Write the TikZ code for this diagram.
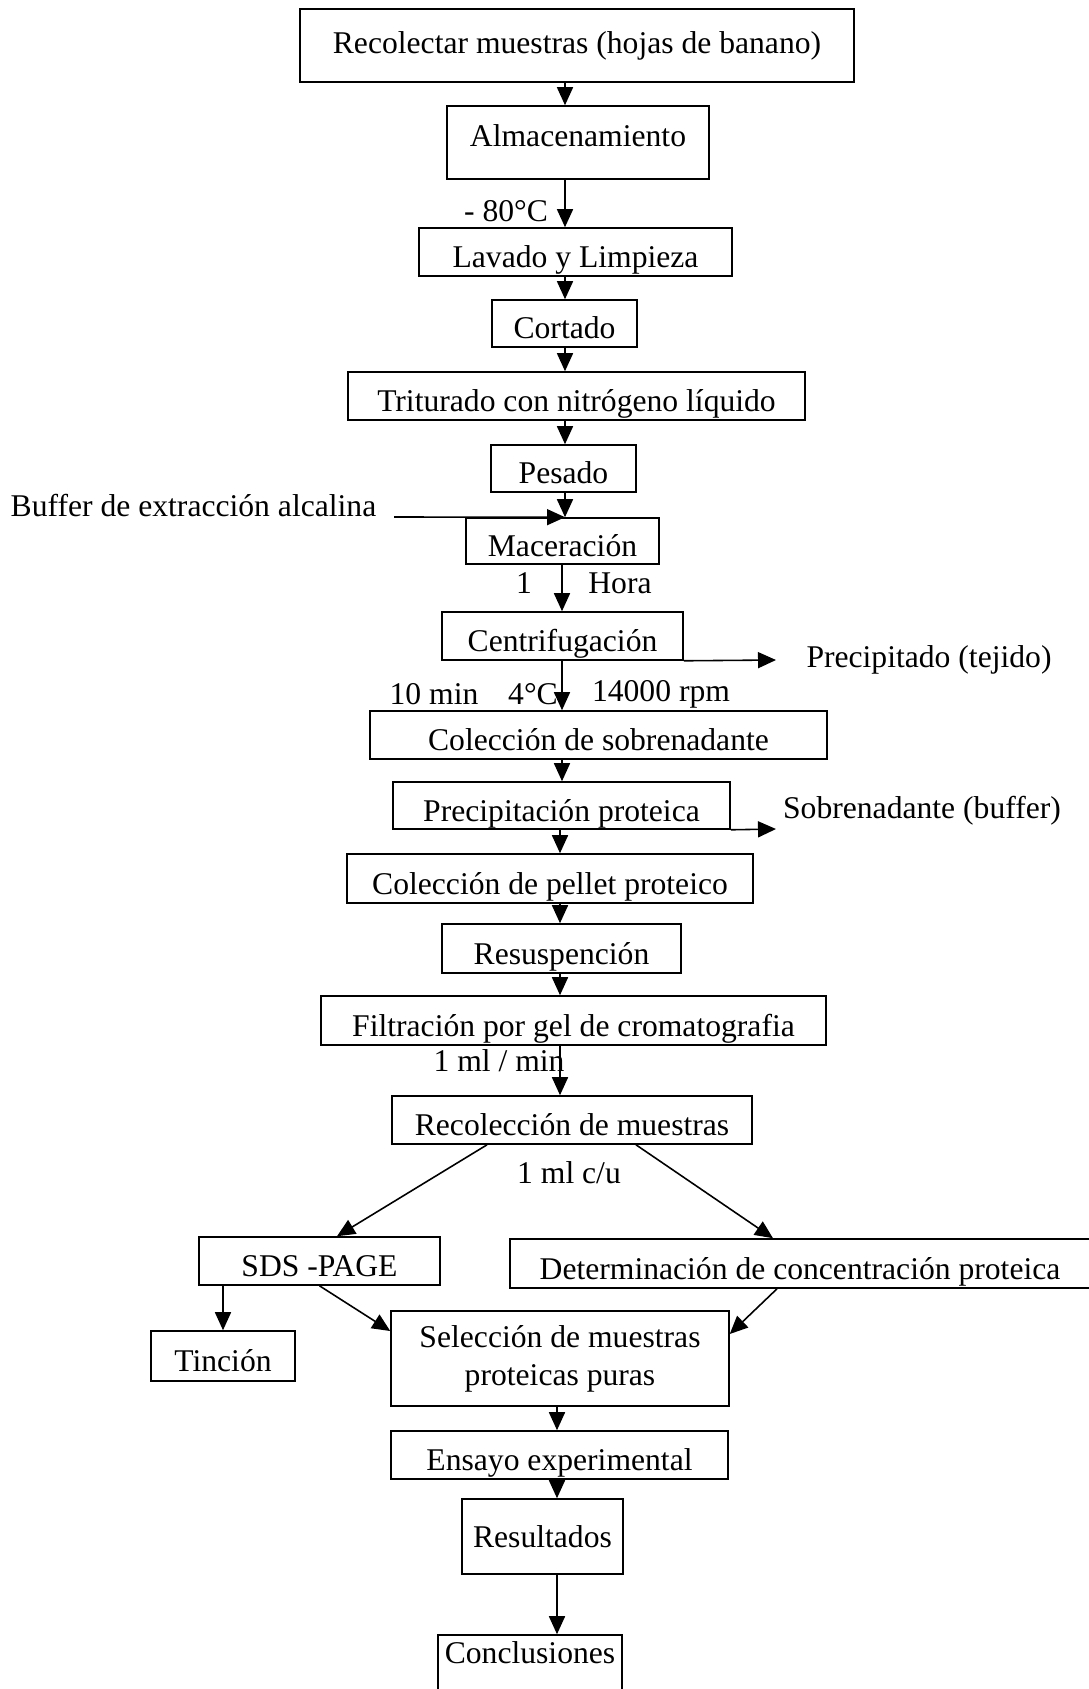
\documentclass[tikz,border=0pt]{standalone}
\usepackage{fontspec}
\setmainfont{Liberation Serif}
\usetikzlibrary{arrows.meta}
\tikzset{
  paso/.style={shape=rectangle, draw=black, line width=0.9pt, inner sep=0pt, align=center, font=\fontsize{18}{21.5}\selectfont},
  bajo/.style={text height=0.72cm, text depth=0.1cm},
  etiq/.style={inner sep=0pt, font=\fontsize{18}{21.5}\selectfont},
  flecha/.style={->, line width=0.9pt, draw=black},
}
\begin{document}
\begin{tikzpicture}[x=0.02cm, y=-0.02cm, >={Triangle[length=0.36cm, width=0.32cm]}]
\useasboundingbox (0,0) rectangle (1088,1689);
\coordinate (ejeA) at (565,0);
\coordinate (ejeB) at (562,0);
\coordinate (ejeC) at (560,0);
\coordinate (ejeD) at (557,0);
\node[paso, minimum width=11.08cm, minimum height=1.46cm] (rec) at (577,45.5) {Recolectar muestras (hojas de banano)};
\node[paso, minimum width=5.24cm, minimum height=1.46cm, text depth=0.26cm] (alm) at (578,142.5) {Almacenamiento};
\node[paso, bajo, minimum width=6.26cm, minimum height=0.96cm] (lav) at (575.5,252) {Lavado y Limpieza};
\node[paso, bajo, minimum width=2.9cm, minimum height=0.94cm] (cor) at (564.5,323.5) {Cortado};
\node[paso, bajo, minimum width=9.14cm, minimum height=0.96cm] (tri) at (576.5,396) {Triturado con nitrógeno líquido};
\node[paso, bajo, minimum width=2.9cm, minimum height=0.94cm] (pes) at (563.5,468.5) {Pesado};
\node[paso, bajo, minimum width=3.86cm, minimum height=0.92cm] (mac) at (562.5,541) {Maceración};
\node[paso, bajo, minimum width=4.82cm, minimum height=0.96cm] (cen) at (562.5,636) {Centrifugación};
\node[paso, bajo, minimum width=9.14cm, minimum height=0.96cm] (sob) at (598.5,735) {Colección de sobrenadante};
\node[paso, bajo, minimum width=6.74cm, minimum height=0.94cm] (pre) at (561.5,805.5) {Precipitación proteica};
\node[paso, bajo, minimum width=8.12cm, minimum height=0.98cm] (pel) at (550,878.5) {Colección de pellet proteico};
\node[paso, bajo, minimum width=4.78cm, minimum height=0.98cm] (res) at (561.5,948.5) {Resuspención};
\node[paso, bajo, minimum width=10.1cm, minimum height=0.98cm] (fil) at (573.5,1020.5) {Filtración por gel de cromatografia};
\node[paso, bajo, minimum width=7.2cm, minimum height=0.96cm] (rcm) at (572,1120) {Recolección de muestras};
\node[paso, bajo, minimum width=4.82cm, minimum height=0.96cm] (sds) at (319.5,1261) {SDS -PAGE};
\node[paso, bajo, minimum width=11.6cm, minimum height=0.98cm] (det) at (800,1263.5) {Determinación de concentración proteica};
\node[paso, bajo, minimum width=2.88cm, minimum height=1cm] (tin) at (223,1356) {Tinción};
\node[paso, minimum width=6.76cm, minimum height=1.9cm] (sel) at (560,1358.5) {Selección de muestras\\proteicas puras};
\node[paso, bajo, minimum width=6.74cm, minimum height=0.96cm] (ens) at (559.5,1455) {Ensayo experimental};
\node[paso, minimum width=3.22cm, minimum height=1.5cm] (rsl) at (542.5,1536.5) {Resultados};
\node[paso, minimum width=3.68cm, minimum height=1.4cm, text depth=0.71cm] (con) at (530,1670) {Conclusiones};
% textos sueltos
\node[etiq] (buf) at (193.5,506) {Buffer de extracción alcalina};
\node[etiq] (ptej) at (929,660) {Precipitado (tejido)};
\node[etiq] (sbuf) at (922,811) {Sobrenadante (buffer)};
\node[etiq] (t80) at (506,211) {- 80°C};
\node[etiq] (t1) at (524,583) {1};
\node[etiq] (thora) at (620,583) {Hora};
\node[etiq] (t10) at (434,694) {10 min};
\node[etiq] (t4) at (533,694) {4°C};
\node[etiq] (trpm) at (661,694) {14000 rpm};
\node[etiq] (tmin) at (499,1061) {1 ml / min};
\node[etiq] (tcu) at (569,1173) {1 ml c/u};
\coordinate (bufin) at (394,517);
\coordinate (ptejin) at (776,660);
\coordinate (sbufin) at (776,829);
\draw [flecha] (rec.south -| ejeA) -- (alm.north -| ejeA);
\draw [flecha] (alm.south -| ejeA) -- (lav.north -| ejeA);
\draw [flecha] (lav.south -| ejeA) -- (cor.north -| ejeA);
\draw [flecha] (cor.south -| ejeA) -- (tri.north -| ejeA);
\draw [flecha] (tri.south -| ejeA) -- (pes.north -| ejeA);
\draw [flecha] (pes.south -| ejeA) -- (mac.north -| ejeA);
\draw [flecha] (bufin) -- (mac.north -| ejeA);
\draw [flecha] (mac.south -| ejeB) -- (cen.north -| ejeB);
\draw [flecha] (cen.south -| ejeB) -- (sob.north -| ejeB);
\draw [flecha] (cen.south east) -- (ptejin);
\draw [flecha] (sob.south -| ejeB) -- (pre.north -| ejeB);
\draw [flecha] (pre.south east) -- (sbufin);
\draw [flecha] (pre.south -| ejeC) -- (pel.north -| ejeC);
\draw [flecha] (pel.south -| ejeC) -- (res.north -| ejeC);
\draw [flecha] (res.south -| ejeC) -- (fil.north -| ejeC);
\draw [flecha] (fil.south -| ejeC) -- (rcm.north -| ejeC);
\draw [flecha] ([xshift=-1.7cm]rcm.south) -- ([xshift=0.35cm]sds.north);
\draw [flecha] ([xshift=1.28cm]rcm.south) -- ([xshift=-0.54cm]det.north);
\draw [flecha] (sds.south -| tin.north) -- (tin.north);
\draw [flecha] (sds.south) -- ([yshift=0.55cm]sel.west);
\draw [flecha] ([xshift=-0.46cm]det.south) -- ([yshift=0.49cm]sel.east);
\draw [flecha] (sel.south -| ejeD) -- (ens.north -| ejeD);
\draw [flecha] (ens.south -| ejeD) -- (rsl.north -| ejeD);
\draw [flecha] (rsl.south -| ejeD) -- (con.north -| ejeD);
\end{tikzpicture}
\end{document}
